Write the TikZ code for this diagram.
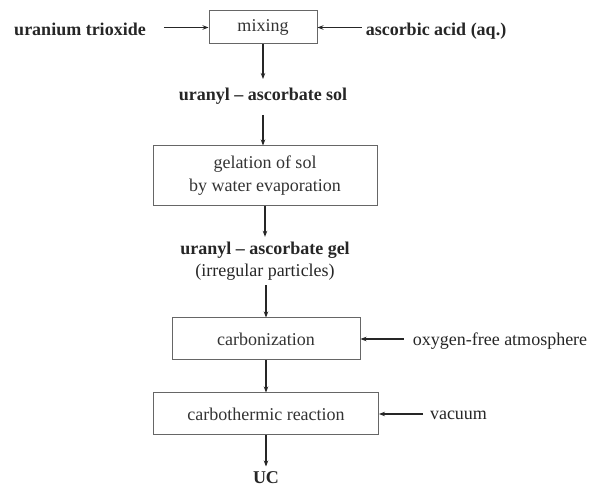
\documentclass[tikz,border=0pt]{standalone}
\usepackage{fontspec}
\setmainfont{Liberation Serif}
\usetikzlibrary{arrows.meta}

\newcommand{\flowsize}{\fontsize{18}{22}\selectfont}

\tikzset{
  stepbox/.style={draw=black!60, line width=1pt, inner sep=0pt, text=black!80, font=\flowsize},
  lbl/.style={inner sep=0pt, text=black!85, font=\flowsize, text height=12pt, text depth=4pt},
  boldlbl/.style={lbl, font=\bfseries\flowsize},
  flow/.style={-{Stealth[length=6pt,width=4.5pt]}, line width=1.3pt, draw=black!85},
}

\begin{document}
\begin{tikzpicture}[x=1pt, y=-1pt]
    \useasboundingbox (0,0) rectangle (590,489);

    % Mixing of the starting materials
    \node[stepbox, minimum width=108pt, minimum height=33pt] (mix) at (263,27.5) {mixing};
    \node[boldlbl, outer xsep=18pt] (uo3) at (80,32) {uranium trioxide};
    \node[boldlbl, outer xsep=4pt] (acid) at (436,32) {ascorbic acid (aq.)};
    \draw[flow] (uo3.east |- mix) -- (mix);
    \draw[flow] (acid.west |- mix) -- (mix);

    % Sol
    \node[boldlbl, outer ysep=10pt] (sol) at (263,97) {uranyl -- ascorbate sol};
    \draw[flow] (mix) -- (sol);

    % Gelation
    \node[stepbox, minimum width=224pt, minimum height=60pt, align=center,
          font=\fontsize{18}{23}\selectfont] (gelation) at (265,176)
          {gelation of sol\\by water evaporation};
    \draw[flow] (sol.south) -- (sol.south |- gelation.north);

    % Gel
    \node[inner sep=0pt, outer ysep=5pt, text=black!85, align=center,
          font=\flowsize] (gel) at (265,261)
          {\textbf{uranyl -- ascorbate gel}\\(irregular particles)};
    \draw[flow] (gelation) -- (gel);

    % Carbonization
    \node[stepbox, minimum width=188pt, minimum height=42pt] (carb) at (266,339) {carbonization};
    \node[lbl, outer xsep=9pt] (gas) at (500,342) {oxygen-free atmosphere};
    \draw[flow] (gel.south -| carb) -- (carb);
    \draw[flow] (gas.west |- carb) -- (carb);

    % Carbothermic reaction
    \node[stepbox, minimum width=225pt, minimum height=42pt] (ctr) at (266,414) {carbothermic reaction};
    \node[lbl, outer xsep=7pt] (vac) at (458.5,416) {vacuum};
    \draw[flow] (carb) -- (ctr);
    \draw[flow] (vac.west |- ctr) -- (ctr);

    % Product
    \node[boldlbl, outer ysep=5pt] (uc) at (266,479.5) {UC};
    \draw[flow] (ctr) -- (uc);
\end{tikzpicture}
\end{document}
